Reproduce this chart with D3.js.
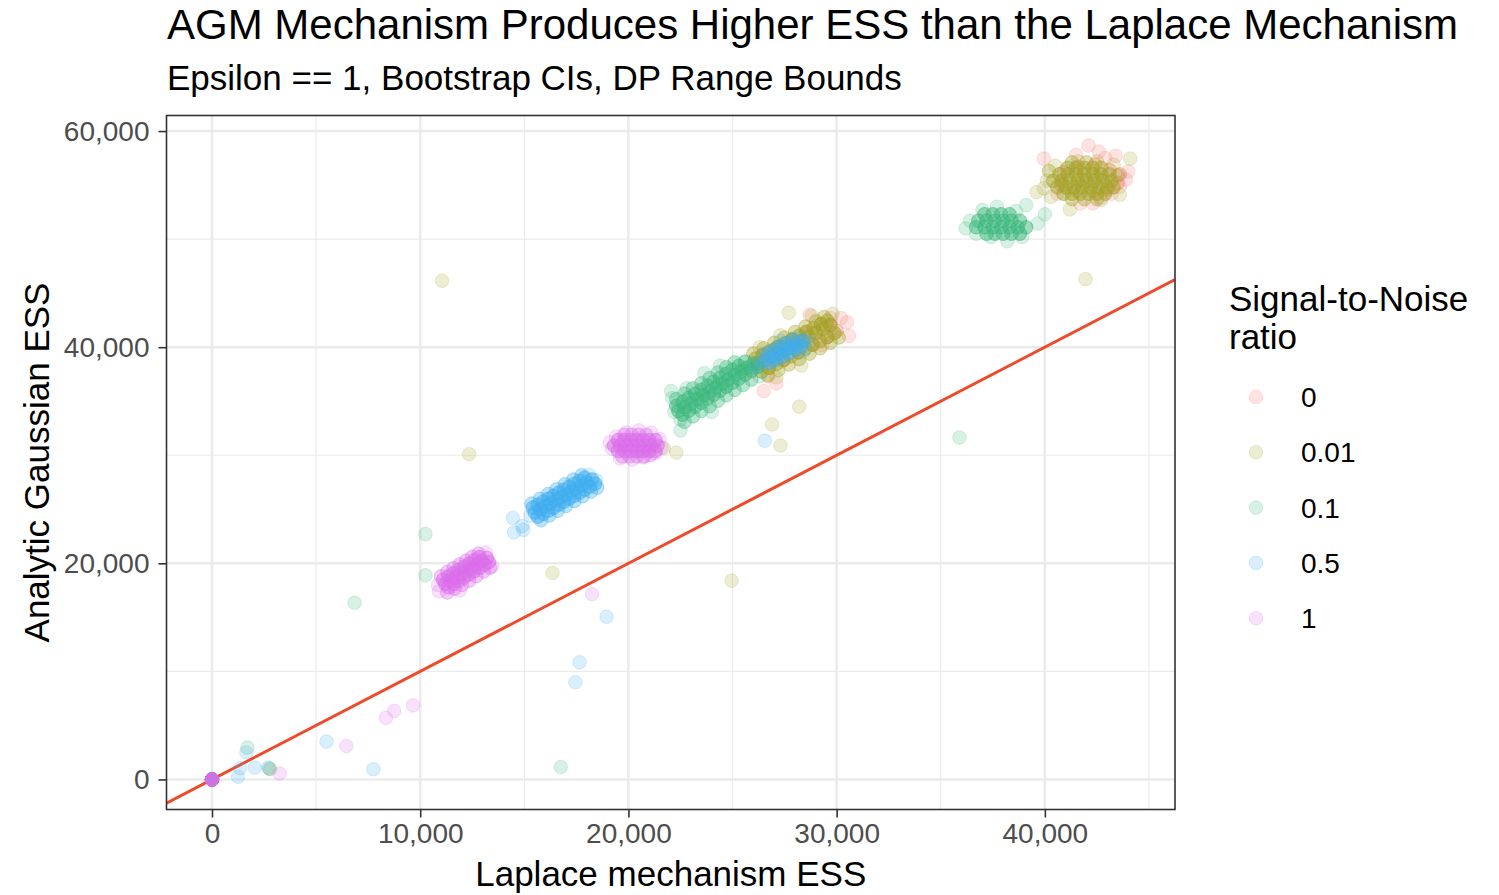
<!DOCTYPE html>
<html>
<head>
<meta charset="utf-8">
<script src="https://cdn.jsdelivr.net/npm/d3@7"></script>
<style>
  body { margin: 0; background: #fff; }
  text { font-family: "Liberation Sans", Arial, Helvetica, sans-serif; }
</style>
</head>
<body>
<div id="chart"></div>
<script>
// categories (drawing order, same as the legend)
const snrLevels = ["0", "0.01", "0.1", "0.5", "1"];
const snrColors = ["#F3786F", "#A5A42A", "#3DB97F", "#3FAEF1", "#DC6EEC"];

// points: [Laplace ESS, AGM ESS, reps stacked on that spot]
const snr0Points = [
  [0, 0, 4],
  // middle band, mostly under 0.01
  [26200, 38500, 2], [26900, 39200, 2], [27600, 39910, 2], [28300, 40620, 2], [29000, 41330, 2],
  [29700, 42050, 2], [26450, 39300, 2], [27150, 40010, 2], [27850, 40720, 2], [28550, 41430, 2],
  [29250, 42140, 2], [26750, 38100, 2], [27450, 38810, 2], [28150, 39520, 2], [28850, 40230, 2],
  [29550, 40940, 2], [30000, 41500, 2],
  [30500, 42300, 1], [30600, 41050, 1], [26500, 35950, 1], [27100, 36650, 1], [29700, 42700, 1],
  [28700, 43000, 1], [29300, 40200, 1], [25900, 37700, 1], [26700, 37300, 1], [30200, 42700, 1],
  // top cluster
  [40800, 55000, 2], [41500, 54500, 2], [42300, 54500, 2], [43000, 54600, 2], [43500, 55200, 2],
  [40900, 56200, 2], [41600, 56700, 2], [42400, 56900, 2], [43100, 56400, 2], [43600, 56000, 2],
  [41800, 55500, 2], [42500, 55700, 2],
  [39950, 57450, 1], [42100, 58650, 1], [42600, 58100, 1], [44000, 56250, 1], [43600, 54850, 1],
  [43200, 54200, 1], [42700, 53800, 1], [41700, 53300, 1], [43900, 55500, 1], [41500, 57800, 1],
  [42900, 57500, 1], [40600, 54200, 1], [43400, 57700, 1], [42300, 53300, 1]
];

const snr001Points = [
  [0, 0, 4], [2800, 950, 1],
  // middle band
  [26200, 38500, 3], [26550, 38850, 3], [26900, 39200, 3], [27250, 39560, 3], [27600, 39910, 3],
  [27950, 40270, 3], [28300, 40620, 3], [28650, 40980, 3], [29000, 41330, 3], [29350, 41690, 3],
  [29700, 42050, 3],
  [26100, 38950, 3], [26450, 39300, 3], [26800, 39650, 3], [27150, 40010, 3], [27500, 40360, 3],
  [27850, 40720, 3], [28200, 41070, 3], [28550, 41430, 3], [28900, 41780, 3], [29250, 42140, 3],
  [29550, 42450, 3],
  [26400, 37750, 3], [26750, 38100, 3], [27100, 38450, 3], [27450, 38810, 3], [27800, 39160, 3],
  [28150, 39520, 3], [28500, 39870, 3], [28850, 40230, 3], [29200, 40580, 3], [29550, 40940, 3],
  [29900, 41300, 3],
  [26000, 39400, 2], [26500, 39900, 2], [27000, 40400, 2], [27500, 40900, 2], [28000, 41400, 2],
  [28500, 41900, 2], [29000, 42400, 2], [29400, 42800, 2],
  [26700, 37400, 2], [27200, 37900, 2], [27700, 38400, 2], [28200, 38900, 2], [28700, 39400, 2],
  [29200, 39900, 2], [29700, 40400, 2], [30100, 40900, 2],
  [27700, 43200, 1], [29800, 43100, 1], [28800, 42900, 1], [25600, 38100, 1], [26300, 40000, 1],
  [27300, 41100, 1], [27100, 37200, 1], [28300, 38300, 1],
  // outliers
  [28200, 34500, 1], [26900, 32850, 1], [27300, 30900, 1], [22300, 30250, 1], [21700, 30650, 1],
  [12350, 30100, 1], [11050, 46150, 1], [16350, 19100, 1], [24950, 18400, 1], [41950, 46300, 1],
  // top cluster
  [40900, 54200, 3], [41300, 54200, 3], [41700, 54200, 3], [42100, 54200, 3], [42500, 54200, 3],
  [42900, 54200, 3],
  [40600, 54800, 3], [41000, 54800, 3], [41400, 54800, 3], [41800, 54800, 3], [42200, 54800, 3],
  [42600, 54800, 3], [43000, 54800, 3], [43300, 54800, 3],
  [40400, 55400, 3], [40800, 55400, 3], [41200, 55400, 3], [41600, 55400, 3], [42000, 55400, 3],
  [42400, 55400, 3], [42800, 55400, 3], [43200, 55400, 3],
  [40700, 56000, 3], [41100, 56000, 3], [41500, 56000, 3], [41900, 56000, 3], [42300, 56000, 3],
  [42700, 56000, 3], [43100, 56000, 3],
  [41100, 56600, 3], [41500, 56600, 3], [41900, 56600, 3], [42300, 56600, 3], [42700, 56600, 3],
  [41300, 53700, 2], [41900, 53700, 2], [42500, 53700, 2], [41300, 57100, 2], [42000, 57100, 2],
  [40200, 56300, 2], [43500, 55900, 2],
  [39600, 54350, 1], [39950, 54700, 1], [40300, 53900, 1], [41200, 52750, 1], [44100, 57450, 1],
  [43600, 54100, 1], [43300, 56900, 1], [40500, 56800, 1], [42700, 53600, 1], [40100, 55400, 1],
  [41600, 57200, 1], [42500, 57200, 1]
];

const snr01Points = [
  [0, 0, 4], [1700, 2950, 1], [2750, 1000, 1], [6850, 16350, 1], [10250, 18900, 1],
  [10250, 22700, 1], [16750, 1150, 1], [35900, 31650, 1], [22500, 32300, 1], [22050, 35950, 1],
  // middle band
  [22400, 34100, 3], [22700, 34450, 3], [23000, 34800, 3], [23300, 35200, 3], [23600, 35550, 3],
  [23900, 35900, 3], [24200, 36300, 3], [24500, 36650, 3], [24800, 37000, 3], [25100, 37400, 3],
  [25400, 37750, 3], [25700, 38100, 3], [26000, 38500, 3],
  [22300, 34580, 3], [22600, 34950, 3], [22900, 35320, 3], [23200, 35690, 3], [23500, 36060, 3],
  [23800, 36430, 3], [24100, 36800, 3], [24400, 37170, 3], [24700, 37540, 3], [25000, 37910, 3],
  [25300, 38280, 3], [25600, 38650, 3],
  [22600, 33750, 3], [22900, 34120, 3], [23200, 34490, 3], [23500, 34860, 3], [23800, 35230, 3],
  [24100, 35600, 3], [24400, 35970, 3], [24700, 36340, 3], [25000, 36710, 3], [25300, 37080, 3],
  [25600, 37450, 3], [25900, 37820, 3], [26200, 38190, 3],
  [22300, 35200, 2], [22700, 35700, 2], [23100, 36200, 2], [23500, 36650, 2], [23900, 37150, 2],
  [24300, 37650, 2], [24700, 38150, 2], [25100, 38600, 2],
  [22700, 33100, 2], [23100, 33600, 2], [23500, 34100, 2], [23900, 34550, 2], [24300, 35050, 2],
  [24700, 35550, 2], [25100, 36050, 2], [25500, 36500, 2], [25900, 37000, 2],
  [22800, 36200, 1], [23650, 37600, 1], [22500, 33300, 1], [22200, 34000, 1], [26200, 38200, 1],
  [22100, 35300, 1], [24000, 34000, 1], [26300, 37300, 1], [24400, 38300, 1],
  // top cluster
  [37200, 50500, 3], [37600, 50500, 3], [38000, 50500, 3], [38400, 50500, 3], [38800, 50500, 3],
  [36700, 51100, 3], [37100, 51100, 3], [37500, 51100, 3], [37900, 51100, 3], [38300, 51100, 3],
  [38700, 51100, 3], [39100, 51100, 3],
  [36800, 51700, 3], [37200, 51700, 3], [37600, 51700, 3], [38000, 51700, 3], [38400, 51700, 3],
  [38800, 51700, 3],
  [37100, 52300, 3], [37500, 52300, 3], [37900, 52300, 3], [38300, 52300, 3],
  [36200, 51000, 1], [36400, 51700, 1], [37000, 52700, 1], [37700, 53000, 1], [39100, 53150, 1],
  [39650, 51450, 1], [40000, 52300, 1], [38900, 50200, 1], [38200, 49800, 1], [37400, 50200, 1],
  [36700, 50500, 1], [38600, 52600, 1]
];

const snr05Points = [
  [0, 0, 4], [1650, 2500, 1], [1350, 1050, 1], [1250, 250, 1], [2050, 1100, 1], [2700, 1100, 1],
  [5500, 3500, 1], [7750, 950, 1], [17650, 10850, 1], [17450, 9000, 1], [18950, 15050, 1],
  [14450, 24200, 1], [14500, 22850, 1], [14900, 23450, 1], [14950, 23100, 1], [26550, 31350, 1],
  // lower cluster
  [15500, 24700, 3], [15750, 24980, 3], [16000, 25250, 3], [16250, 25530, 3], [16500, 25810, 3],
  [16750, 26090, 3], [17000, 26370, 3], [17250, 26640, 3], [17500, 26920, 3], [17750, 27200, 3],
  [18000, 27470, 3], [18250, 27750, 3],
  [15400, 25140, 3], [15650, 25420, 3], [15900, 25700, 3], [16150, 25970, 3], [16400, 26250, 3],
  [16650, 26530, 3], [16900, 26810, 3], [17150, 27080, 3], [17400, 27360, 3], [17650, 27640, 3],
  [17900, 27920, 3],
  [15650, 24310, 3], [15900, 24590, 3], [16150, 24870, 3], [16400, 25150, 3], [16650, 25420, 3],
  [16900, 25700, 3], [17150, 25980, 3], [17400, 26260, 3], [17650, 26530, 3], [17900, 26810, 3],
  [18150, 27090, 3], [18400, 27370, 3],
  [15350, 25530, 2], [15750, 25970, 2], [16150, 26420, 2], [16550, 26860, 2], [16950, 27310, 2],
  [17350, 27750, 2], [17750, 28150, 2],
  [15800, 23980, 2], [16200, 24420, 2], [16600, 24870, 2], [17000, 25310, 2], [17400, 25760, 2],
  [17800, 26200, 2], [18200, 26640, 2], [18500, 27000, 2],
  [15300, 24400, 1], [18450, 27700, 1], [18100, 28200, 1],
  // middle cluster
  [26600, 38800, 3], [26900, 39100, 3], [27200, 39400, 3], [27500, 39700, 3], [27800, 40000, 3],
  [28100, 40300, 3], [28400, 40550, 3],
  [26700, 39450, 3], [27000, 39750, 3], [27300, 40050, 3], [27600, 40350, 3], [27900, 40650, 3],
  [26800, 38550, 3], [27100, 38850, 3], [27400, 39150, 3], [27700, 39450, 3], [28000, 39750, 3],
  [28300, 40050, 3],
  [26400, 38600, 1], [26500, 39200, 1], [28600, 40600, 1], [28400, 39600, 1], [27300, 40600, 1],
  [26100, 38200, 1], [28200, 40900, 1]
];

const snr1Points = [
  [0, 0, 10], [3250, 550, 1], [6450, 3100, 1], [8350, 5700, 1], [8750, 6350, 1], [9650, 6850, 1],
  [18250, 17150, 1],
  // lower cluster
  [11200, 18100, 3], [11450, 18400, 3], [11700, 18700, 3], [11950, 19000, 3], [12200, 19300, 3],
  [12450, 19600, 3], [12700, 19900, 3], [12950, 20200, 3], [13200, 20500, 3],
  [11100, 18480, 3], [11350, 18780, 3], [11600, 19080, 3], [11850, 19380, 3], [12100, 19680, 3],
  [12350, 19980, 3], [12600, 20280, 3], [12850, 20580, 3],
  [11350, 17780, 3], [11600, 18080, 3], [11850, 18380, 3], [12100, 18680, 3], [12350, 18980, 3],
  [12600, 19280, 3], [12850, 19580, 3], [13100, 19880, 3], [13300, 20120, 3],
  [11000, 18800, 2], [11300, 19200, 2], [11600, 19550, 2], [11900, 19900, 2], [12200, 20250, 2],
  [12500, 20600, 2], [12800, 20900, 2],
  [11300, 17300, 2], [11650, 17650, 2], [12000, 18000, 2], [12350, 18400, 2], [12700, 18800, 2],
  [13050, 19250, 2], [13350, 19600, 2],
  [10900, 17400, 1], [11900, 17500, 1], [13450, 19700, 1], [13150, 21000, 1], [10850, 18000, 1],
  // upper cluster
  [19500, 30400, 3], [19800, 30400, 3], [20100, 30400, 3], [20400, 30400, 3], [20700, 30400, 3],
  [21000, 30400, 3], [21300, 30400, 3],
  [19300, 30900, 3], [19600, 30900, 3], [19900, 30900, 3], [20200, 30900, 3], [20500, 30900, 3],
  [20800, 30900, 3], [21100, 30900, 3], [21400, 30900, 3],
  [19500, 31400, 3], [19800, 31400, 3], [20100, 31400, 3], [20400, 31400, 3], [20700, 31400, 3],
  [21000, 31400, 3], [21300, 31400, 3],
  [19800, 31900, 2], [20150, 31900, 2], [20500, 31900, 2], [20850, 31900, 2],
  [19700, 29900, 2], [20050, 29900, 2], [20400, 29900, 2], [20750, 29900, 2], [21050, 30000, 2],
  [19200, 30600, 1], [19100, 31200, 1], [19600, 29700, 1], [20200, 29600, 1], [20700, 29800, 1],
  [21300, 30200, 1], [21600, 30700, 1], [21500, 31500, 1], [21100, 32100, 1], [20500, 32300, 1],
  [19900, 32100, 1], [19400, 31700, 1]
];

const seriesPoints = [snr0Points, snr001Points, snr01Points, snr05Points, snr1Points];

// axis ticks
const xTicks = [0, 10000, 20000, 30000, 40000];
const xMinor = [5000, 15000, 25000, 35000, 45000];
const yTicks = [0, 20000, 40000, 60000];
const yMinor = [10000, 30000, 50000];

// page + panel
const W = 1499, H = 895;
const panel = { left: 166.5, right: 1175, top: 115.5, bottom: 809.5 };

const svg = d3.select("#chart")
  .append("svg")
  .attr("width", W)
  .attr("height", H);

const x = d3.scaleLinear()
  .domain([-2185, 46250])
  .range([panel.left, panel.right]);

const y = d3.scaleLinear()
  .domain([-2780, 61440])
  .range([panel.bottom, panel.top]);

const fmt = d3.format(",");

// grid (theme_bw)
const grid = svg.append("g");
grid.selectAll(".xminor").data(xMinor).enter().append("line")
  .attr("x1", d => x(d)).attr("x2", d => x(d))
  .attr("y1", panel.top).attr("y2", panel.bottom)
  .attr("stroke", "#EBEBEB").attr("stroke-width", 1.2);
grid.selectAll(".yminor").data(yMinor).enter().append("line")
  .attr("y1", d => y(d)).attr("y2", d => y(d))
  .attr("x1", panel.left).attr("x2", panel.right)
  .attr("stroke", "#EBEBEB").attr("stroke-width", 1.2);
grid.selectAll(".xmajor").data(xTicks).enter().append("line")
  .attr("x1", d => x(d)).attr("x2", d => x(d))
  .attr("y1", panel.top).attr("y2", panel.bottom)
  .attr("stroke", "#EBEBEB").attr("stroke-width", 2.5);
grid.selectAll(".ymajor").data(yTicks).enter().append("line")
  .attr("y1", d => y(d)).attr("y2", d => y(d))
  .attr("x1", panel.left).attr("x2", panel.right)
  .attr("stroke", "#EBEBEB").attr("stroke-width", 2.5);

// y = x reference line
svg.append("defs").append("clipPath").attr("id", "clip")
  .append("rect")
  .attr("x", panel.left).attr("y", panel.top)
  .attr("width", panel.right - panel.left).attr("height", panel.bottom - panel.top);

const diag = x.domain();
svg.append("line")
  .attr("clip-path", "url(#clip)")
  .attr("x1", x(diag[0])).attr("y1", y(diag[0]))
  .attr("x2", x(diag[1])).attr("y2", y(diag[1]))
  .attr("stroke", "#EE4B2B")
  .attr("stroke-width", 3);

// points, one circle per replicate
const pts = seriesPoints.flatMap((arr, i) =>
  arr.flatMap(([px, py, n]) => d3.range(n).map(() => ({ x: px, y: py, snr: i })))
);

svg.append("g").selectAll("circle")
  .data(pts)
  .enter()
  .append("circle")
  .attr("cx", d => x(d.x))
  .attr("cy", d => y(d.y))
  .attr("r", 6.8)
  .attr("fill", d => snrColors[d.snr])
  .attr("fill-opacity", 0.2)
  .attr("stroke", d => snrColors[d.snr])
  .attr("stroke-opacity", 0.2)
  .attr("stroke-width", 1);

// panel border
svg.append("rect")
  .attr("x", panel.left).attr("y", panel.top)
  .attr("width", panel.right - panel.left).attr("height", panel.bottom - panel.top)
  .attr("fill", "none")
  .attr("stroke", "#333333")
  .attr("stroke-width", 1.6);

// axes
const xAxis = svg.append("g")
  .attr("transform", `translate(0,${panel.bottom})`)
  .call(d3.axisBottom(x).tickValues(xTicks).tickFormat(fmt).tickSize(8).tickPadding(6));
const yAxis = svg.append("g")
  .attr("transform", `translate(${panel.left},0)`)
  .call(d3.axisLeft(y).tickValues(yTicks).tickFormat(fmt).tickSize(8).tickPadding(9));

[xAxis, yAxis].forEach(g => {
  g.select(".domain").remove();
  g.selectAll(".tick line").attr("stroke", "#333333").attr("stroke-width", 1.6);
  g.selectAll(".tick text")
    .attr("fill", "#4D4D4D")
    .style("font-size", "28px")
    .style("font-family", "'Liberation Sans', Arial, sans-serif");
});

// titles
svg.append("text")
  .attr("x", 167).attr("y", 39)
  .style("font-size", "42px")
  .attr("fill", "#000")
  .text("AGM Mechanism Produces Higher ESS than the Laplace Mechanism");

svg.append("text")
  .attr("x", 167).attr("y", 90)
  .style("font-size", "35px")
  .attr("fill", "#000")
  .text("Epsilon == 1, Bootstrap CIs, DP Range Bounds");

svg.append("text")
  .attr("x", (panel.left + panel.right) / 2).attr("y", 886)
  .attr("text-anchor", "middle")
  .style("font-size", "35px")
  .text("Laplace mechanism ESS");

svg.append("text")
  .attr("transform", `translate(49,${(panel.top + panel.bottom) / 2}) rotate(-90)`)
  .attr("text-anchor", "middle")
  .style("font-size", "35px")
  .text("Analytic Gaussian ESS");

// legend
const legend = svg.append("g");
legend.append("text")
  .attr("x", 1229).attr("y", 311)
  .style("font-size", "35px")
  .text("Signal-to-Noise");
legend.append("text")
  .attr("x", 1229).attr("y", 349)
  .style("font-size", "35px")
  .text("ratio");

const keys = legend.selectAll(".key")
  .data(snrLevels)
  .enter()
  .append("g")
  .attr("transform", (d, i) => `translate(0,${397 + i * 55.3})`);

keys.append("circle")
  .attr("cx", 1256).attr("cy", 0).attr("r", 6.8)
  .attr("fill", (d, i) => snrColors[i])
  .attr("fill-opacity", 0.2)
  .attr("stroke", (d, i) => snrColors[i])
  .attr("stroke-opacity", 0.2)
  .attr("stroke-width", 1);

keys.append("text")
  .attr("x", 1301).attr("y", 0).attr("dy", "0.36em")
  .style("font-size", "28px")
  .text(d => d);
</script>
</body>
</html>
